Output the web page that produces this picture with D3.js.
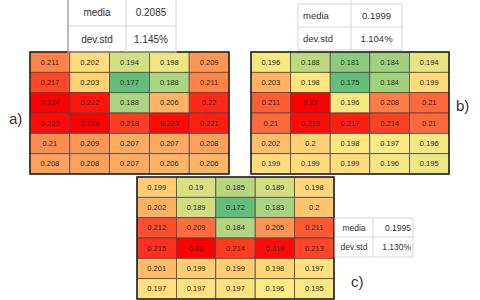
<!DOCTYPE html>
<html>
<head>
<meta charset="utf-8">
<script src="https://cdn.jsdelivr.net/npm/d3@7"></script>
<style>
  body { margin: 0; background: #fff; }
  svg { display: block; font-family: "Liberation Sans", Arial, sans-serif; }
</style>
</head>
<body>
<div id="chart"></div>
<script>
// Datos de las tres mallas (6 filas x 5 columnas)
const gridA = [
  [0.211, 0.202, 0.194, 0.198, 0.209],
  [0.217, 0.203, 0.177, 0.188, 0.211],
  [0.224, 0.222, 0.188, 0.206, 0.22],
  [0.223, 0.224, 0.218, 0.223, 0.221],
  [0.21, 0.209, 0.207, 0.207, 0.208],
  [0.208, 0.208, 0.207, 0.206, 0.206]
];
const gridB = [
  [0.196, 0.188, 0.181, 0.184, 0.194],
  [0.203, 0.198, 0.175, 0.184, 0.199],
  [0.211, 0.22, 0.196, 0.208, 0.21],
  [0.21, 0.219, 0.217, 0.214, 0.21],
  [0.202, 0.2, 0.198, 0.197, 0.196],
  [0.199, 0.199, 0.199, 0.196, 0.195]
];
const gridC = [
  [0.199, 0.19, 0.185, 0.189, 0.198],
  [0.202, 0.189, 0.172, 0.183, 0.2],
  [0.212, 0.209, 0.184, 0.205, 0.211],
  [0.215, 0.22, 0.214, 0.219, 0.213],
  [0.201, 0.199, 0.199, 0.198, 0.197],
  [0.197, 0.197, 0.197, 0.196, 0.195]
];
const statLabels = ['media', 'dev.std'];
const statsA = ['0.2085', '1.145%'];
const statsB = ['0.1999', '1.104%'];
const statsC = ['0.1995', '1.130%'];
const panelLabels = ['a)', 'b)', 'c)'];

const width = 480, height = 300;

let svg = d3.select('#chart')
  .append('svg')
    .attr('width', width)
    .attr('height', height);

//Configuración de cada panel
let panels = [
  { data: gridA, stats: statsA, label: panelLabels[0],
    x0: 30, x1: 229, y0: 52, y1: 174,
    table: { x0: 68, xm: 126, x1: 176, y0: -1, ym: 26, y1: 52, fs: 10, labAnchor: 'middle', valAnchor: 'middle', leftDark: true },
    lab: { x: 9, y: 124 } },
  { data: gridB, stats: statsB, label: panelLabels[1],
    x0: 251, x1: 449, y0: 52, y1: 174,
    table: { x0: 298, xm: 351, x1: 402, y0: 4, ym: 27, y1: 50, fs: 9.5, labAnchor: 'start', valAnchor: 'middle', topLine: true },
    lab: { x: 456, y: 111 } },
  { data: gridC, stats: statsC, label: panelLabels[2],
    x0: 137, x1: 334, y0: 177, y1: 299,
    table: { x0: 335, xm: 373, x1: 413, y0: 218, ym: 237, y1: 257, fs: 8.5, labAnchor: 'middle', valAnchor: 'end' },
    lab: { x: 351, y: 287 } }
];

panels.forEach(function(p) {
  let cols = d3.range(5), rows = d3.range(6);
  let x = d3.scaleBand().domain(cols).range([p.x0, p.x1]);
  let y = d3.scaleBand().domain(rows).range([p.y0, p.y1]);

  let vals = p.data.flat();
  let mn = d3.min(vals), mx = d3.max(vals);
  let color = d3.scaleLinear()
    .domain([mn, (mn + mx) / 2, mx])
    .range(['#63BE7B', '#FFEB84', '#FF0000'])
    .interpolate(d3.interpolateRgb);

  let cells = [];
  p.data.forEach(function(row, i) {
    row.forEach(function(v, j) { cells.push({ r: i, c: j, v: v }); });
  });

  let g = svg.append('g');

  g.selectAll('rect.cell')
    .data(cells)
    .enter()
    .append('rect')
      .attr('class', 'cell')
      .attr('x', function(d) { return x(d.c); })
      .attr('y', function(d) { return y(d.r); })
      .attr('width', x.bandwidth())
      .attr('height', y.bandwidth())
      .attr('fill', function(d) { return color(d.v); })
      .attr('stroke', '#4a4a4a')
      .attr('stroke-width', 0.8);

  g.selectAll('text.val')
    .data(cells)
    .enter()
    .append('text')
      .attr('class', 'val')
      .attr('x', function(d) { return x(d.c) + x.bandwidth() / 2; })
      .attr('y', function(d) { return y(d.r) + y.bandwidth() / 2 + 2.6; })
      .attr('text-anchor', 'middle')
      .attr('font-size', 7.5)
      .attr('fill', '#2a2a2a')
      .text(function(d) { return String(d.v); });

  //Borde exterior
  g.append('rect')
    .attr('x', p.x0).attr('y', p.y0)
    .attr('width', p.x1 - p.x0).attr('height', p.y1 - p.y0)
    .attr('fill', 'none')
    .attr('stroke', '#222')
    .attr('stroke-width', 1.5);

  //Tabla de media / desviación
  let t = p.table;
  let tg = svg.append('g');
  let lineColor = '#d6d6d6';
  tg.append('rect')
    .attr('x', t.x0).attr('y', t.y0)
    .attr('width', t.x1 - t.x0).attr('height', t.y1 - t.y0)
    .attr('fill', 'none').attr('stroke', lineColor);
  tg.append('line')
    .attr('x1', t.xm).attr('x2', t.xm).attr('y1', t.topLine ? 0 : t.y0).attr('y2', t.y1)
    .attr('stroke', lineColor);
  tg.append('line')
    .attr('x1', t.x0).attr('x2', t.x1).attr('y1', t.ym).attr('y2', t.ym)
    .attr('stroke', lineColor);
  if (t.leftDark) {
    tg.append('line')
      .attr('x1', t.x0).attr('x2', t.x0).attr('y1', t.y0).attr('y2', t.y1)
      .attr('stroke', '#8a8a8a');
  }

  let rowMid = [(t.y0 + t.ym) / 2, (t.ym + t.y1) / 2];
  let labX = t.labAnchor === 'start' ? t.x0 + 5 : (t.x0 + t.xm) / 2;
  let valX = t.valAnchor === 'end' ? t.x1 - 2 : (t.xm + t.x1) / 2;

  tg.selectAll('text.lab')
    .data(statLabels)
    .enter()
    .append('text')
      .attr('x', labX)
      .attr('y', function(d, i) { return rowMid[i] + t.fs * 0.36; })
      .attr('text-anchor', t.labAnchor)
      .attr('font-size', t.fs)
      .attr('fill', '#333')
      .text(function(d) { return d; });

  tg.selectAll('text.stat')
    .data(p.stats)
    .enter()
    .append('text')
      .attr('x', valX)
      .attr('y', function(d, i) { return rowMid[i] + t.fs * 0.36; })
      .attr('text-anchor', t.valAnchor)
      .attr('font-size', t.fs)
      .attr('fill', '#333')
      .text(function(d) { return d; });

  //Etiqueta del panel
  svg.append('text')
    .attr('x', p.lab.x)
    .attr('y', p.lab.y)
    .attr('font-size', 15)
    .attr('fill', '#333')
    .text(p.label);
});
</script>
</body>
</html>
